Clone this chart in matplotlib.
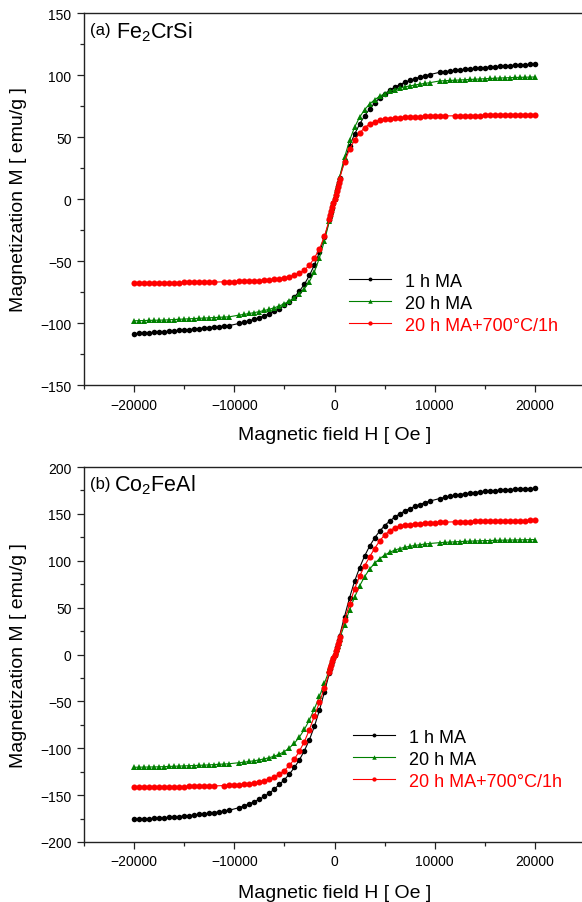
import matplotlib.pyplot as plt
from matplotlib.ticker import MultipleLocator

plt.rcParams['font.family'] = ['Liberation Sans', 'DejaVu Sans']
plt.rcParams['mathtext.default'] = 'regular'

# field grids (Oe): black/green series skip 10000, annealed series skips 11500
H_grid = [-20000, -19500, -19000, -18500, -18000, -17500, -17000, -16500, -16000, -15500,
          -15000, -14500, -14000, -13500, -13000, -12500, -12000, -11500, -11000, -10500,
          -9500, -9000, -8500, -8000, -7500, -7000, -6500, -6000, -5500, -5000,
          -4500, -4000, -3500, -3000, -2500, -2000, -1500, -1000, -500,
          -400, -300, -200, -100, 0, 100, 200, 300, 400,
          500, 1000, 1500, 2000, 2500, 3000, 3500, 4000, 4500, 5000,
          5500, 6000, 6500, 7000, 7500, 8000, 8500, 9000, 9500,
          10500, 11000, 11500, 12000, 12500, 13000, 13500, 14000, 14500, 15000,
          15500, 16000, 16500, 17000, 17500, 18000, 18500, 19000, 19500, 20000]

H_grid_ann = [-20000, -19500, -19000, -18500, -18000, -17500, -17000, -16500, -16000, -15500,
              -15000, -14500, -14000, -13500, -13000, -12500, -12000,
              -11000, -10500, -10000, -9500, -9000, -8500, -8000, -7500, -7000, -6500,
              -6000, -5500, -5000, -4500, -4000, -3500, -3000, -2500, -2000, -1500, -1000, -500,
              -400, -300, -200, -100, 0, 100, 200, 300, 400,
              500, 1000, 1500, 2000, 2500, 3000, 3500, 4000, 4500, 5000, 5500,
              6000, 6500, 7000, 7500, 8000, 8500, 9000, 9500, 10000, 10500, 11000,
              12000, 12500, 13000, 13500, 14000, 14500, 15000, 15500, 16000,
              16500, 17000, 17500, 18000, 18500, 19000, 19500, 20000]

# (a) Fe2CrSi, magnetization in emu/g
M_a_1h = [-108.6, -108.4, -108.1, -107.9, -107.6, -107.3, -107.0, -106.7, -106.4, -106.0,
          -105.7, -105.3, -104.9, -104.5, -104.1, -103.7, -103.3, -102.9, -102.5, -102.1,
          -100.3, -99.3, -98.2, -97.0, -95.7, -94.2, -92.5, -90.6, -88.4, -85.8,
          -82.7, -78.9, -74.3, -68.6, -61.6, -53.0, -43.0, -31.0, -17.0,
          -13.7, -10.3, -6.9, -3.5, 0.0, 3.5, 6.9, 10.3, 13.7,
          17.0, 31.0, 42.8, 52.2, 60.3, 67.0, 72.6, 77.4, 81.4, 84.8,
          87.6, 90.1, 92.2, 94.0, 95.6, 97.0, 98.2, 99.3, 100.3,
          102.2, 102.7, 103.2, 103.7, 104.1, 104.5, 104.9, 105.3, 105.7, 106.0,
          106.4, 106.7, 107.0, 107.3, 107.6, 107.9, 108.1, 108.3, 108.5, 108.7]

M_a_20h = [-98.2, -98.1, -98.0, -97.9, -97.8, -97.7, -97.6, -97.4, -97.2, -97.0,
           -96.8, -96.6, -96.4, -96.2, -96.0, -95.8, -95.6, -95.4, -95.2, -95.0,
           -93.6, -93.0, -92.3, -91.6, -90.8, -89.9, -88.9, -87.7, -86.2, -84.4,
           -82.3, -79.7, -76.5, -72.3, -66.6, -58.6, -47.5, -33.6, -17.5,
           -14.0, -10.5, -7.0, -3.5, 0.0, 3.5, 7.0, 10.5, 14.0,
           17.5, 33.6, 47.2, 57.8, 65.9, 72.0, 76.6, 80.0, 82.8, 85.0,
           86.8, 88.2, 89.4, 90.4, 91.2, 91.9, 92.6, 93.2, 93.8,
           95.2, 95.4, 95.6, 95.8, 96.0, 96.2, 96.4, 96.6, 96.8, 97.0,
           97.2, 97.4, 97.6, 97.7, 97.9, 98.0, 98.1, 98.2, 98.3, 98.4]

M_a_ann = [-67.8, -67.8, -67.7, -67.7, -67.6, -67.6, -67.5, -67.5, -67.4, -67.4,
           -67.3, -67.3, -67.2, -67.2, -67.1, -67.1, -67.0,
           -66.8, -66.7, -66.6, -66.5, -66.3, -66.2, -66.0, -65.8, -65.5, -65.2,
           -64.8, -64.3, -63.6, -62.7, -61.5, -59.8, -57.3, -53.3, -47.5, -40.2, -30.0, -16.3,
           -13.2, -9.9, -6.6, -3.3, 0.0, 3.3, 6.6, 9.9, 13.2,
           16.5, 29.8, 40.2, 47.3, 53.0, 57.6, 60.4, 62.3, 63.5, 64.3, 64.9,
           65.3, 65.7, 66.0, 66.2, 66.4, 66.5, 66.6, 66.7, 66.8, 66.9, 67.0,
           67.1, 67.1, 67.2, 67.2, 67.3, 67.3, 67.4, 67.4, 67.5,
           67.5, 67.6, 67.6, 67.7, 67.7, 67.8, 67.8, 67.9]

# (b) Co2FeAl
M_b_1h = [-175.8, -175.6, -175.4, -175.1, -174.8, -174.5, -174.1, -173.7, -173.3, -172.8,
          -172.3, -171.8, -171.2, -170.6, -170.0, -169.3, -168.6, -167.8, -167.0, -166.1,
          -163.3, -161.4, -159.3, -157.0, -154.4, -151.4, -147.8, -143.5, -138.5, -133.5,
          -127.5, -120.5, -112.3, -102.5, -90.8, -76.5, -59.3, -39.8, -19.5,
          -15.6, -11.7, -7.8, -3.9, 0.0, 3.9, 7.8, 11.7, 15.6,
          19.8, 40.5, 60.5, 78.0, 92.5, 105.0, 115.5, 124.3, 131.5, 137.5,
          142.3, 146.5, 150.0, 153.0, 155.6, 157.9, 160.0, 161.9, 163.6,
          166.4, 167.6, 168.7, 169.7, 170.6, 171.4, 172.1, 172.8, 173.4, 173.9,
          174.4, 174.8, 175.2, 175.6, 175.9, 176.2, 176.5, 176.8, 177.0, 177.2]

M_b_20h = [-120.3, -120.2, -120.1, -120.0, -119.9, -119.8, -119.6, -119.4, -119.2, -119.0,
           -118.8, -118.6, -118.4, -118.2, -118.0, -117.7, -117.4, -117.1, -116.8, -116.5,
           -115.4, -114.8, -114.1, -113.3, -112.4, -111.3, -110.0, -108.4, -106.3, -103.5,
           -99.6, -94.6, -88.0, -79.8, -69.8, -57.8, -44.5, -30.5, -16.0,
           -12.8, -9.6, -6.4, -3.2, 0.0, 3.2, 6.4, 9.6, 12.8,
           16.5, 32.0, 47.5, 61.0, 73.0, 83.0, 91.0, 97.3, 102.2, 106.0,
           109.0, 111.3, 113.0, 114.3, 115.4, 116.3, 117.1, 117.8, 118.4,
           119.3, 119.6, 119.9, 120.2, 120.5, 120.7, 120.9, 121.1, 121.3, 121.5,
           121.6, 121.8, 121.9, 122.0, 122.1, 122.2, 122.3, 122.4, 122.5, 122.6]

M_b_ann = [-141.8, -141.7, -141.6, -141.5, -141.4, -141.3, -141.2, -141.1, -141.0, -140.9,
           -140.8, -140.7, -140.6, -140.5, -140.4, -140.3, -140.2,
           -139.8, -139.5, -139.2, -138.8, -138.3, -137.7, -137.0, -136.0, -134.7, -133.0,
           -130.8, -127.8, -123.8, -118.3, -111.5, -103.0, -92.8, -80.0, -65.5, -51.0, -35.5, -18.5,
           -14.8, -11.1, -7.4, -3.7, 0.0, 3.7, 7.4, 11.1, 14.8,
           19.0, 36.5, 53.5, 70.0, 83.5, 94.5, 104.0, 113.0, 121.0, 127.5, 132.0,
           135.0, 136.7, 137.8, 138.6, 139.2, 139.7, 140.1, 140.5, 140.8, 141.0, 141.2,
           141.5, 141.6, 141.7, 141.8, 141.9, 142.0, 142.1, 142.2, 142.3,
           142.4, 142.5, 142.6, 142.7, 142.8, 142.9, 143.0, 143.1]

labels = ['1 h MA', '20 h MA', '20 h MA+700°C/1h']
colors = ['black', '#008000', '#ff0000']
markers = ['o', '^', 'o']


def panel(ax, curves, ylim, tag, name, name_x, leg_xy, tag_y, name_y, xlab_y):
    grids = [H_grid, H_grid, H_grid_ann]
    sizes = [4.0, 4.6, 4.4]
    for h, m, c, mk, ms, lab in zip(grids, curves, colors, markers, sizes, labels):
        ax.plot(h, m, color=c, marker=mk, ms=ms, mew=0, lw=0.8, label=lab)
    ax.set_xlim(-25000, 25000)
    ax.set_ylim(*ylim)
    ax.xaxis.set_major_locator(MultipleLocator(10000))
    ax.xaxis.set_minor_locator(MultipleLocator(5000))
    ax.yaxis.set_major_locator(MultipleLocator(50))
    ax.yaxis.set_minor_locator(MultipleLocator(25))
    ax.tick_params(which='both', direction='out', top=False, right=False,
                   labelsize=10, width=0.9, color='#222222')
    ax.tick_params(which='major', length=5, pad=4)
    ax.tick_params(which='minor', length=3)
    for s in ax.spines.values():
        s.set_linewidth(1.0)
        s.set_color('#222222')
    ax.set_xlabel('Magnetic field H [ Oe ]', fontsize=14)
    ax.set_ylabel('Magnetization M [ emu/g ]', fontsize=14)
    ax.yaxis.set_label_coords(-0.114, 0.5)
    ax.xaxis.set_label_coords(0.5, xlab_y)
    ax.text(0.012, tag_y, tag, transform=ax.transAxes, fontsize=12, va='baseline')
    ax.text(name_x, name_y, name, transform=ax.transAxes, fontsize=15.5, va='baseline')
    leg = ax.legend(loc='center left', bbox_to_anchor=leg_xy, frameon=False,
                    fontsize=13, handlelength=2.3, handletextpad=0.8,
                    labelspacing=0.28, borderpad=0, borderaxespad=0, markerscale=0.7)
    leg.get_texts()[2].set_color('#ff0000')


fig = plt.figure(figsize=(5.82, 9.03), dpi=100)
ax_a = fig.add_axes([84 / 582, 1 - 386 / 903, 501 / 582, 372 / 903])
ax_b = fig.add_axes([84 / 582, 1 - 843 / 903, 501 / 582, 375 / 903])

panel(ax_a, [M_a_1h, M_a_20h, M_a_ann], (-150, 150), '(a)', 'Fe$_2$CrSi', 0.064,
      (0.529, 0.22), 0.9435, 0.9355, -0.11)
panel(ax_b, [M_b_1h, M_b_20h, M_b_ann], (-200, 200), '(b)', 'Co$_2$FeAl', 0.059,
      (0.537, 0.221), 0.944, 0.937, -0.112)

fig.savefig('out.png', dpi=100)
